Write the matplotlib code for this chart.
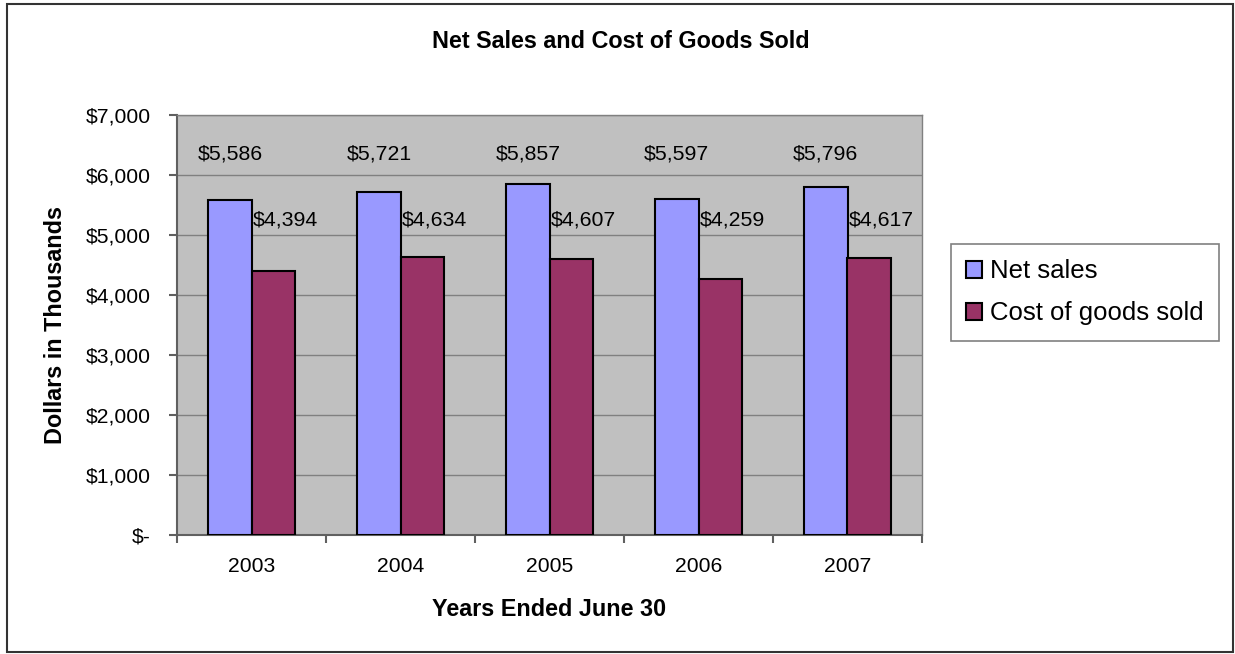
import numpy as np
import matplotlib
matplotlib.use('Agg')
import matplotlib.pyplot as plt
from matplotlib.patches import Rectangle
from matplotlib.ticker import FuncFormatter

# data (thousands of dollars)
years = ['2003', '2004', '2005', '2006', '2007']
net_sales = [5586, 5721, 5857, 5597, 5796]
cost_sold = [4394, 4634, 4607, 4259, 4617]

plt.rcParams['font.family'] = ['Liberation Sans', 'DejaVu Sans']

fig = plt.figure(figsize=(12.35, 6.54), dpi=100)
ax = fig.add_axes([177/1235, 119/654, 745/1235, 420/654])

x = np.arange(len(years))
w = 0.29
ax.bar(x - w/2, net_sales, w, color='#9999FF', edgecolor='black', lw=1.5,
       label='Net sales', zorder=3)
ax.bar(x + w/2, cost_sold, w, color='#993366', edgecolor='black', lw=1.5,
       label='Cost of goods sold', zorder=3)

# value labels (placed above the bars at roughly fixed heights, like the original)
for i in range(len(years)):
    ax.text(x[i] - w/2, 6350, '${:,}'.format(net_sales[i]), ha='center',
            va='center', fontsize=15.3, zorder=4)
    ax.text(x[i] + 0.01, 5250, '${:,}'.format(cost_sold[i]), ha='left',
            va='center', fontsize=15.3, zorder=4)

ax.set_facecolor('#C0C0C0')
ax.set_xlim(-0.5, len(years) - 0.5)
ax.set_ylim(0, 7000)
ax.set_yticks(np.arange(0, 7001, 1000))
ax.yaxis.set_major_formatter(FuncFormatter(
    lambda v, p: '$-' if v == 0 else '${:,.0f}'.format(v)))
ax.grid(axis='y', color='#808080', lw=1, zorder=1)

ax.set_xticks(x)
ax.set_xticklabels(years)
ax.set_xticks(np.arange(-0.5, len(years)), minor=True)
ax.tick_params(axis='x', which='major', length=0, pad=15.5, labelsize=15.2)
ax.tick_params(axis='x', which='minor', length=6, width=1.5,
               color='#606060', direction='out')
ax.tick_params(axis='y', length=6, width=1.5, color='#606060',
               pad=13, labelsize=15.2)

for s in ['left', 'bottom']:
    ax.spines[s].set_color('#606060')
    ax.spines[s].set_linewidth(1.5)
for s in ['top', 'right']:
    ax.spines[s].set_color('#808080')
    ax.spines[s].set_linewidth(1)

ax.set_xlabel('Years Ended June 30', fontsize=16.8, fontweight='bold', labelpad=16)
ax.set_ylabel('Dollars in Thousands', fontsize=16.8, fontweight='bold', labelpad=13)
fig.text(0.5025, 1 - 41/654, 'Net Sales and Cost of Goods Sold', ha='center',
         va='center', fontsize=16.8, fontweight='bold')

leg = fig.legend(loc='upper left', bbox_to_anchor=(951/1235, 1 - 244/654),
                 fontsize=18.5, frameon=True, fancybox=False, framealpha=1,
                 edgecolor='#808080', handlelength=0.6, handleheight=0.6,
                 handletextpad=0.3, labelspacing=0.7, borderpad=0.6,
                 borderaxespad=0)
leg.get_frame().set_linewidth(1.2)

# outer chart border
fig.patches.append(Rectangle((7/1235, 2/654), 1226/1235, 648/654,
                             transform=fig.transFigure, fill=False,
                             edgecolor='#333333', lw=1.5))

fig.savefig('out.png', dpi=100)
